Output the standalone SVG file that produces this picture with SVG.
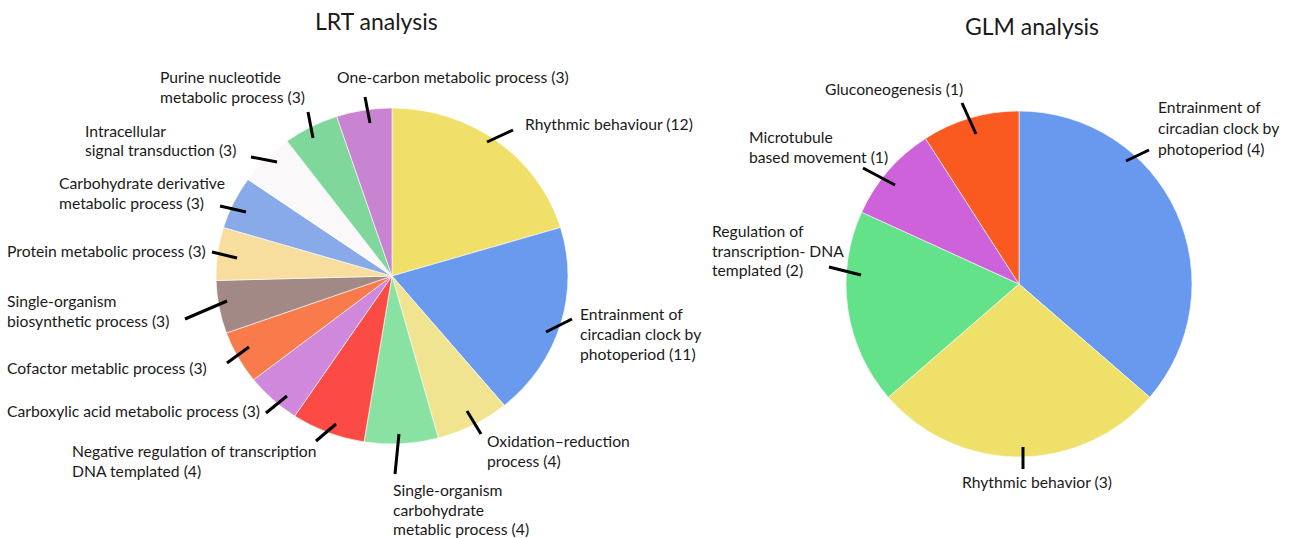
<svg xmlns="http://www.w3.org/2000/svg" width="1290" height="538" viewBox="0 0 1290 538">
<style>
text{font-family:Lato,"Liberation Sans",sans-serif;font-size:15.7px;fill:#1a1a1a}
.title{font-size:23px}
.slice{stroke:#fff;stroke-width:0.6}
.lead line{stroke:#000;stroke-width:3;stroke-linecap:butt}
</style>
<rect width="1290" height="538" fill="#fff"/>
<text class="title" x="315" y="30">LRT analysis</text>
<text class="title" x="965" y="35">GLM analysis</text>

<g id="lrt-pie">
<path id="s-rhythmic" class="slice" fill="#F0E06A" d="M392,276 L392,108 A176,168 0 0 1 560.51,227.50 Z"/>
<path id="s-entrain" class="slice" fill="#6A9AEE" d="M392,276 L560.51,227.50 A176,168 0 0 1 504.32,405.34 Z"/>
<path id="s-oxid" class="slice" fill="#F0E490" d="M392,276 L504.32,405.34 A176,168 0 0 1 438.30,438.08 Z"/>
<path id="s-carb" class="slice" fill="#8AE2A2" d="M392,276 L438.30,438.08 A176,168 0 0 1 364.01,441.86 Z"/>
<path id="s-negreg" class="slice" fill="#FC4A45" d="M392,276 L364.01,441.86 A176,168 0 0 1 294.71,416.00 Z"/>
<path id="s-carbox" class="slice" fill="#D088DC" d="M392,276 L294.71,416.00 A176,168 0 0 1 253.57,379.75 Z"/>
<path id="s-cofactor" class="slice" fill="#F97A4A" d="M392,276 L253.57,379.75 A176,168 0 0 1 226.44,332.99 Z"/>
<path id="s-biosyn" class="slice" fill="#A38986" d="M392,276 L226.44,332.99 A176,168 0 0 1 216.06,280.47 Z"/>
<path id="s-protein" class="slice" fill="#F7DE9E" d="M392,276 L216.06,280.47 A176,168 0 0 1 223.49,227.50 Z"/>
<path id="s-carbder" class="slice" fill="#88AAE8" d="M392,276 L223.49,227.50 A176,168 0 0 1 247.98,179.43 Z"/>
<path id="s-intra" class="slice" fill="#FBF8F9" d="M392,276 L247.98,179.43 A176,168 0 0 1 287.04,141.14 Z"/>
<path id="s-purine" class="slice" fill="#80D79B" d="M392,276 L287.04,141.14 A176,168 0 0 1 336.73,116.50 Z"/>
<path id="s-onecarbon" class="slice" fill="#C884D1" d="M392,276 L336.73,116.50 A176,168 0 0 1 392,108 Z"/>
</g>

<g id="glm-pie">
<path id="g-entrain" class="slice" fill="#6899EE" d="M1019,284 L1019,111 A173,173 0 0 1 1149.74,397.29 Z"/>
<path id="g-rhythmic" class="slice" fill="#EFE06A" d="M1019,284 L1149.74,397.29 A173,173 0 0 1 888.26,397.29 Z"/>
<path id="g-reg" class="slice" fill="#64E28A" d="M1019,284 L888.26,397.29 A173,173 0 0 1 861.63,212.13 Z"/>
<path id="g-micro" class="slice" fill="#CE62DB" d="M1019,284 L861.63,212.13 A173,173 0 0 1 925.47,138.46 Z"/>
<path id="g-gluco" class="slice" fill="#FA5920" d="M1019,284 L925.47,138.46 A173,173 0 0 1 1019,111 Z"/>
</g>

<g id="connectors" class="lead">
<line x1="365" y1="97" x2="370" y2="123"/>
<line x1="513" y1="130" x2="487" y2="142"/>
<line x1="572" y1="319" x2="546" y2="332"/>
<line x1="467" y1="411" x2="481" y2="434"/>
<line x1="399" y1="434" x2="395" y2="474"/>
<line x1="336" y1="424" x2="316" y2="441"/>
<line x1="266" y1="413" x2="287" y2="396"/>
<line x1="227" y1="363" x2="249" y2="347"/>
<line x1="185" y1="319" x2="227" y2="301"/>
<line x1="212" y1="252" x2="237" y2="258"/>
<line x1="220" y1="206" x2="246" y2="212"/>
<line x1="251" y1="157" x2="277" y2="162"/>
<line x1="308" y1="112" x2="313" y2="138"/>
<line x1="962" y1="103" x2="976" y2="134"/>
<line x1="863" y1="168" x2="895" y2="185"/>
<line x1="829" y1="267" x2="861" y2="275"/>
<line x1="1149" y1="150" x2="1126" y2="161"/>
<line x1="1023" y1="447" x2="1023" y2="469"/>
</g>

<g id="lrt-labels">
<g id="l-onecarbon"><text x="337" y="83">One-carbon metabolic process (3)</text></g>
<g id="l-rhythmic"><text x="525" y="130">Rhythmic behaviour (12)</text></g>
<g id="l-entrain"><text x="580" y="320">Entrainment of</text><text x="580" y="340">circadian clock by</text><text x="580" y="360">photoperiod (11)</text></g>
<g id="l-oxid"><text x="487" y="447">Oxidation–reduction</text><text x="487" y="467">process (4)</text></g>
<g id="l-carb"><text x="393" y="496">Single-organism</text><text x="393" y="516">carbohydrate</text><text x="393" y="535">metablic process (4)</text></g>
<g id="l-negreg"><text x="72" y="457">Negative regulation of transcription</text><text x="72" y="477">DNA templated (4)</text></g>
<g id="l-carbox"><text x="7" y="417">Carboxylic acid metabolic process (3)</text></g>
<g id="l-cofactor"><text x="7" y="374">Cofactor metablic process (3)</text></g>
<g id="l-biosyn"><text x="7" y="307">Single-organism</text><text x="7" y="327">biosynthetic process (3)</text></g>
<g id="l-protein"><text x="7" y="257">Protein metabolic process (3)</text></g>
<g id="l-carbder"><text x="59" y="189">Carbohydrate derivative</text><text x="59" y="209">metabolic process (3)</text></g>
<g id="l-intra"><text x="85" y="137">Intracellular</text><text x="85" y="156">signal transduction (3)</text></g>
<g id="l-purine"><text x="160" y="83">Purine nucleotide</text><text x="160" y="103">metabolic process (3)</text></g>
</g>

<g id="glm-labels">
<g id="r-gluco"><text x="825" y="95">Gluconeogenesis (1)</text></g>
<g id="r-micro"><text x="749" y="143">Microtubule</text><text x="749" y="163">based movement (1)</text></g>
<g id="r-reg"><text x="712" y="237">Regulation of</text><text x="712" y="257">transcription- DNA</text><text x="712" y="276">templated (2)</text></g>
<g id="r-entrain"><text x="1158" y="113">Entrainment of</text><text x="1158" y="134">circadian clock by</text><text x="1158" y="155">photoperiod (4)</text></g>
<g id="r-rhythmic"><text x="962" y="488">Rhythmic behavior (3)</text></g>
</g>
</svg>
